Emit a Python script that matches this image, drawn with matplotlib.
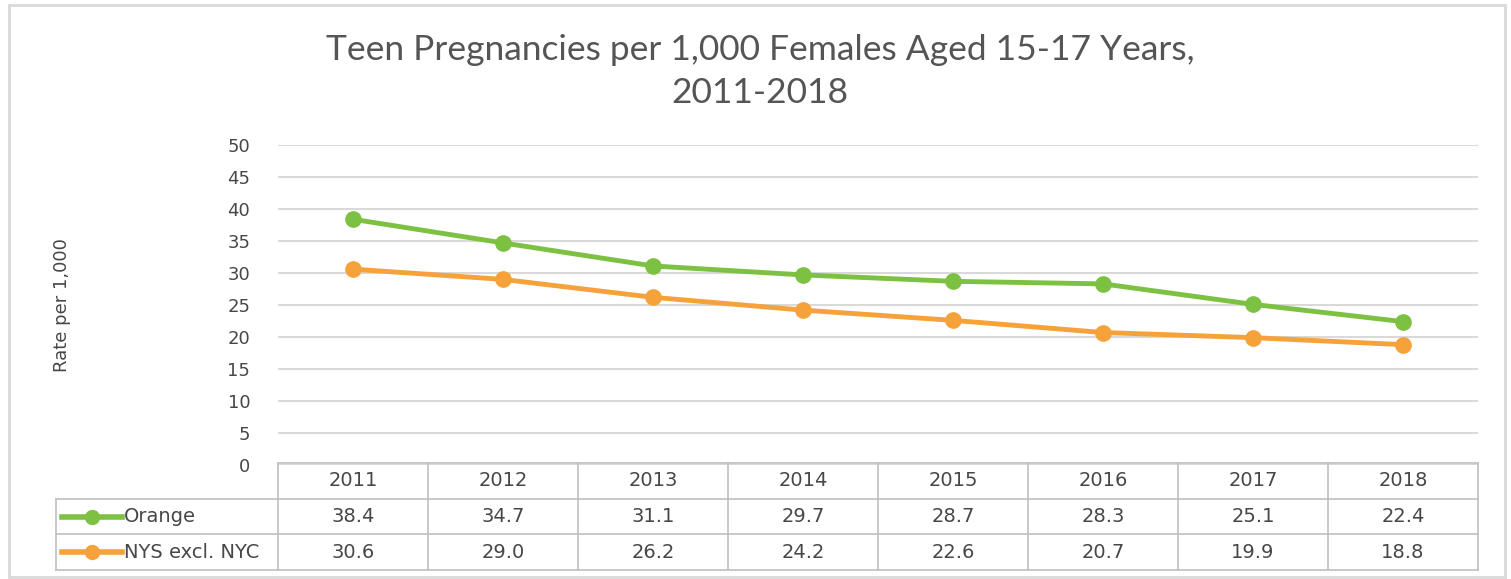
import matplotlib
matplotlib.use("Agg")
import matplotlib.pyplot as plt
from matplotlib.patches import Rectangle

years = ["2011", "2012", "2013", "2014", "2015", "2016", "2017", "2018"]
orange_county = [38.4, 34.7, 31.1, 29.7, 28.7, 28.3, 25.1, 22.4]
nys_excl_nyc = [30.6, 29.0, 26.2, 24.2, 22.6, 20.7, 19.9, 18.8]
series_names = ["Orange", "NYS excl. NYC"]
yticks = [0, 5, 10, 15, 20, 25, 30, 35, 40, 45, 50]

GREEN = "#7dc143"
ORANGE = "#f6a23a"
TXT = "#474747"
GRID = "#d9d9d9"
FONT = "DejaVu Sans"
TFONT = "Lato"

W, H = 1511, 579
fig = plt.figure(figsize=(W / 100, H / 100), dpi=100)
fig.patch.set_facecolor("white")

def fx(px):
    return px / W

def fy(py):
    return 1 - py / H

# outer border
fig.patches.append(Rectangle((fx(9), fy(577)), fx(1505) - fx(9), fy(5) - fy(577),
                             transform=fig.transFigure, fill=False,
                             edgecolor="#d9d9d9", linewidth=2))

# plot area
L, R, T, B = 278, 1478, 145, 465
ax = fig.add_axes([fx(L), fy(B), fx(R) - fx(L), fy(T) - fy(B)])
n = len(years)
xs = list(range(n))
ax.set_xlim(-0.5, n - 0.5)
ax.set_ylim(0, 50)
ax.set_yticks(yticks)
ax.set_yticklabels([str(t) for t in yticks], fontsize=13, color=TXT, family=FONT)
ax.tick_params(axis="y", length=0, pad=20)
ax.set_xticks([])
for s in ax.spines.values():
    s.set_visible(False)
for t in yticks:
    ax.axhline(t, color=GRID, linewidth=1.5, zorder=0)
ax.plot(xs, orange_county, color=GREEN, linewidth=3.5, marker="o", markersize=11,
        solid_capstyle="round", zorder=3)
ax.plot(xs, nys_excl_nyc, color=ORANGE, linewidth=3.5, marker="o", markersize=11,
        solid_capstyle="round", zorder=3)

fig.text(fx(62), fy(305), "Rate per 1,000", rotation=90, ha="center", va="center",
         fontsize=13, color=TXT, family=FONT)

fig.text(fx(760), fy(50), "Teen Pregnancies per 1,000 Females Aged 15-17 Years,",
         ha="center", va="center", fontsize=25.5, color="#555555", family=TFONT)
fig.text(fx(760), fy(93), "2011-2018", ha="center", va="center", fontsize=25.5,
         color="#555555", family=TFONT)

# data table
TL, TT, TB = 56, 463, 570
tax = fig.add_axes([fx(TL), fy(TB), fx(R) - fx(TL), fy(TT) - fy(TB)])
left_x = -0.5 - (L - TL) / 150.0
tax.set_xlim(left_x, n - 0.5)
tax.set_ylim(3, 0)
tax.axis("off")
lc = "#bfbfbf"
lw = 1.2
tax.plot([-0.5, n - 0.5], [0, 0], color=lc, linewidth=lw, clip_on=False)
for r in [1.0, 2.0, 3.0]:
    tax.plot([left_x, n - 0.5], [r, r], color=lc, linewidth=lw, clip_on=False)
tax.plot([left_x, left_x], [1, 3], color=lc, linewidth=lw, clip_on=False)
for i in range(n + 1):
    tax.plot([i - 0.5, i - 0.5], [0, 3], color=lc, linewidth=lw, clip_on=False)

FS = 14
for i, y in enumerate(years):
    tax.text(i, 0.5, y, ha="center", va="center", fontsize=FS, color=TXT, family=FONT)
for i, v in enumerate(orange_county):
    tax.text(i, 1.5, f"{v:.1f}", ha="center", va="center", fontsize=FS, color=TXT, family=FONT)
for i, v in enumerate(nys_excl_nyc):
    tax.text(i, 2.5, f"{v:.1f}", ha="center", va="center", fontsize=FS, color=TXT, family=FONT)

def px2x(px):
    return left_x + (px - TL) / 150.0

for row, (name, col) in enumerate(zip(series_names, [GREEN, ORANGE])):
    yc = 1.5 + row
    tax.plot([px2x(62), px2x(122)], [yc, yc], color=col, linewidth=4, clip_on=False)
    tax.plot([px2x(92)], [yc], marker="o", markersize=10, color=col, clip_on=False)
    tax.text(px2x(124), yc, name, ha="left", va="center", fontsize=FS, color=TXT, family=FONT)

fig.savefig("out.png", dpi=100)
